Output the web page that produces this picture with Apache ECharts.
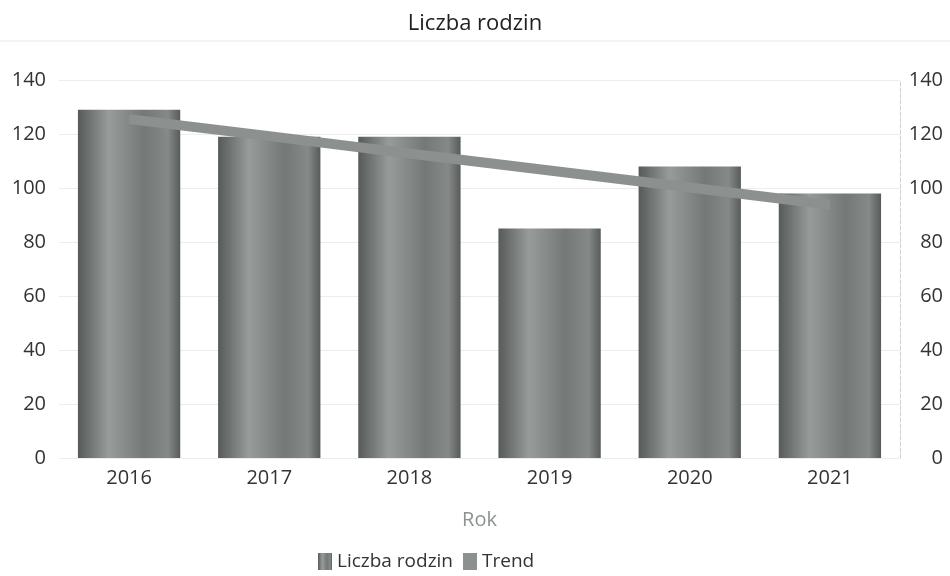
<!DOCTYPE html>
<html>
<head>
<meta charset="utf-8">
<script src="https://cdn.jsdelivr.net/npm/echarts@6/dist/echarts.min.js"></script>
<style>
  html, body { margin: 0; padding: 0; background: #fff; }
  #chart { width: 950px; height: 576px; }
</style>
</head>
<body>
<div id="chart"></div>
<script>
var years = ['2016', '2017', '2018', '2019', '2020', '2021'];
var familyCounts = [129, 119, 119, 85, 108, 98];
var trendValues = [125.5, 119.2, 112.8, 106.5, 100.2, 93.8];
var axisTicks = [0, 20, 40, 60, 80, 100, 120, 140];

var barFill = new echarts.graphic.LinearGradient(0, 0, 1, 0, [
    { offset: 0, color: '#565a59' },
    { offset: 0.3, color: '#979b9a' },
    { offset: 0.65, color: '#747877' },
    { offset: 0.88, color: '#858988' },
    { offset: 1, color: '#575b5a' }
]);

var myChart = echarts.init(document.getElementById('chart'));
var option = {
    backgroundColor: '#fff',
    textStyle: { fontFamily: 'Open Sans' },
    title: {
        text: 'Liczba rodzin',
        left: 'center',
        top: 8,
        textStyle: { fontSize: 22, fontWeight: 'normal', color: '#222' }
    },
    graphic: [{
        type: 'line',
        shape: { x1: 0, y1: 41, x2: 950, y2: 41 },
        style: { stroke: '#e6e6e6', lineWidth: 1 }
    }],
    legend: {
        left: 313,
        bottom: 0,
        itemGap: 10,
        itemWidth: 14,
        itemHeight: 17,
        textStyle: { fontSize: 19, color: '#333' },
        data: [
            { name: 'Liczba rodzin', icon: 'rect' },
            { name: 'Trend', icon: 'rect', itemStyle: { color: '#8c9190' } }
        ]
    },
    grid: { left: 59, right: 50, top: 80, bottom: 118 },
    xAxis: {
        type: 'category',
        data: years,
        name: 'Rok',
        nameLocation: 'middle',
        nameGap: 52,
        nameTextStyle: { fontSize: 20, color: '#8a9292' },
        axisLine: { show: false },
        axisTick: { show: false },
        axisLabel: { fontSize: 20, color: '#333', margin: 10 }
    },
    yAxis: [{
        type: 'value',
        min: axisTicks[0],
        max: axisTicks[axisTicks.length - 1],
        interval: 20,
        axisLabel: { fontSize: 20, color: '#333', margin: 13 },
        splitLine: { lineStyle: { color: '#ececec' } },
        axisLine: { show: false }
    }, {
        type: 'value',
        position: 'right',
        min: axisTicks[0],
        max: axisTicks[axisTicks.length - 1],
        interval: 20,
        axisLabel: { fontSize: 20, color: '#333', margin: 43, align: 'right' },
        splitLine: { show: false },
        axisLine: { show: true, lineStyle: { color: '#cfcfcf', type: 'dashed' } },
        axisTick: { show: false }
    }],
    series: [{
        name: 'Liczba rodzin',
        type: 'bar',
        data: familyCounts,
        barWidth: '73%',
        itemStyle: { color: barFill }
    }, {
        name: 'Trend',
        type: 'line',
        data: trendValues,
        symbol: 'none',
        lineStyle: { color: '#8c9190', width: 10, cap: 'butt' },
        itemStyle: { color: '#8c9190' },
        z: 3
    }]
};
myChart.setOption(option);
</script>
</body>
</html>
